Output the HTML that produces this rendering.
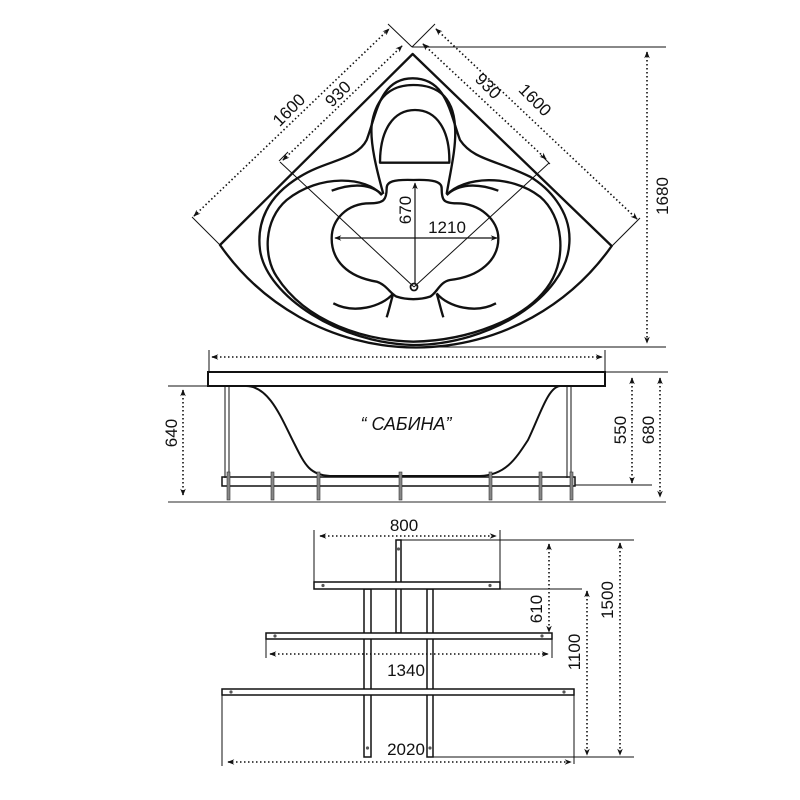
<!DOCTYPE html>
<html><head><meta charset="utf-8"><style>
html,body{margin:0;padding:0;background:#fff}
svg{display:block}
text{font-family:"Liberation Sans","DejaVu Sans",sans-serif;fill:#111}
</style></head><body>
<svg width="800" height="800" viewBox="0 0 800 800" xmlns="http://www.w3.org/2000/svg">
<defs>
<marker id="a" viewBox="0 0 10 10" refX="9" refY="5" markerWidth="7" markerHeight="7" orient="auto-start-reverse" markerUnits="userSpaceOnUse">
<path d="M0,1 L10,5 L0,9 L3,5 Z" fill="#111"/></marker>
</defs>

<!-- TOP VIEW (zoom coords) -->
<g transform="translate(180,30) scale(0.33333)" fill="none" stroke="#111" stroke-width="7" stroke-linejoin="round">
<path d="M120,645 L698,72 L1295,648 A717,717 0 0 1 120,645 Z"/>
<path d="M698,145 C600,145 590,250 560,330 C530,390 440,390 360,440 C260,500 230,580 240,660 C260,800 480,940 700,945 C930,945 1160,800 1168,640 C1175,540 1100,470 1050,440 C950,390 880,390 840,330 C810,250 800,145 698,145 Z"/>
<path d="M605,495 C560,440 420,430 320,510 C250,570 250,680 290,740 C380,880 560,932 700,935 C860,932 1040,870 1110,760 C1160,680 1150,560 1080,500 C990,430 850,440 800,495"/>
<path d="M610,492 C590,420 570,340 575,285 C590,185 650,165 700,165 C760,165 820,190 825,290 C830,350 810,430 800,492"/>
<path d="M600,398 C600,300 640,240 705,240 C770,240 810,300 808,398 Z"/>
<path d="M700,450 C760,448 785,455 785,475 C785,510 790,520 830,520 C900,520 955,570 955,625 C955,690 900,740 810,750 C780,755 770,790 750,800 C720,810 680,810 650,800 C630,790 620,765 590,755 C500,740 455,690 455,625 C455,570 500,520 570,520 C610,520 620,510 620,475 C620,455 640,448 700,450 Z"/>
<path d="M455,482 C520,458 575,462 607,495"/>
<path d="M955,482 C890,458 835,462 800,495"/>
<path d="M460,820 C520,852 605,832 640,790"/>
<path d="M620,862 C630,830 635,805 640,790"/>
<path d="M948,820 C888,852 805,832 770,790"/>
<path d="M790,862 C780,830 775,805 770,790"/>
</g>
<circle cx="414" cy="287" r="3.5" fill="none" stroke="#111" stroke-width="1.8"/>

<!-- top view dims -->
<g stroke="#111" stroke-width="1" fill="none">
<line x1="388" y1="24" x2="412" y2="47"/>
<line x1="435" y1="24" x2="412" y2="47"/>
<line x1="412" y1="47" x2="666" y2="47"/>
<line x1="418" y1="347" x2="666" y2="347"/>
<line x1="220" y1="245" x2="192" y2="217"/>
<line x1="612" y1="246" x2="640" y2="218"/>
<line x1="280" y1="162" x2="414" y2="287"/>
<line x1="549" y1="163" x2="414" y2="287"/>
<line x1="279" y1="161" x2="288" y2="152"/>
<line x1="550" y1="164" x2="541" y2="155"/>
<line x1="335" y1="238" x2="497" y2="238" marker-start="url(#a)" marker-end="url(#a)" stroke-width="1.2"/>
<line x1="415" y1="284" x2="415" y2="183" marker-end="url(#a)" stroke-width="1.2"/>
</g>
<g stroke="#111" stroke-width="1.6" fill="none" stroke-dasharray="1.5 2.5">
<line x1="194" y1="216" x2="389" y2="29" marker-start="url(#a)" marker-end="url(#a)"/>
<line x1="283" y1="160" x2="402" y2="46" marker-start="url(#a)" marker-end="url(#a)"/>
<line x1="423" y1="44" x2="546" y2="159" marker-start="url(#a)" marker-end="url(#a)"/>
<line x1="436" y1="29" x2="637" y2="219" marker-start="url(#a)" marker-end="url(#a)"/>
<line x1="647" y1="52" x2="647" y2="343" marker-start="url(#a)" marker-end="url(#a)"/>
</g>
<g font-size="17">
<text transform="translate(293,114) rotate(-45)" text-anchor="middle">1600</text>
<text transform="translate(342,98) rotate(-45)" text-anchor="middle">930</text>
<text transform="translate(484,90) rotate(45)" text-anchor="middle">930</text>
<text transform="translate(531,104) rotate(45)" text-anchor="middle">1600</text>
<text transform="translate(411,210) rotate(-90)" text-anchor="middle">670</text>
<text x="447" y="233" text-anchor="middle">1210</text>
<text transform="translate(668,196) rotate(-90)" text-anchor="middle">1680</text>
</g>

<!-- SIDE VIEW -->
<g stroke="#111" fill="none">
<line x1="209" y1="350" x2="209" y2="372" stroke-width="1"/>
<line x1="605" y1="350" x2="605" y2="372" stroke-width="1"/>
<line x1="212" y1="357" x2="602" y2="357" stroke-width="1.6" stroke-dasharray="1.5 2.5" marker-start="url(#a)" marker-end="url(#a)"/>
<rect x="208" y="372" width="397" height="14" stroke-width="2"/>
<line x1="605" y1="372" x2="668" y2="372" stroke-width="1"/>
<line x1="168" y1="386" x2="208" y2="386" stroke-width="1"/>
<line x1="225" y1="386" x2="225" y2="478" stroke-width="1"/>
<line x1="229" y1="386" x2="229" y2="478" stroke-width="1"/>
<line x1="567" y1="386" x2="567" y2="478" stroke-width="1"/>
<line x1="571" y1="386" x2="571" y2="478" stroke-width="1"/>
<path d="M246,386 C270,386 282,420 295,445 C305,465 310,475 330,476 L480,476 C505,475 515,460 528,440 C540,415 548,387 560,386" stroke-width="2"/>
<rect x="222" y="477" width="353" height="9" stroke-width="1.5"/>
<line x1="168" y1="502" x2="666" y2="502" stroke-width="1.2" stroke="#555"/>
<line x1="575" y1="485" x2="652" y2="485" stroke-width="1"/>
</g>
<g fill="#888" stroke="#333" stroke-width="0.6">
<rect x="227" y="472" width="3" height="28"/>
<rect x="271" y="472" width="3" height="28"/>
<rect x="317" y="472" width="3" height="28"/>
<rect x="399" y="472" width="3" height="28"/>
<rect x="489" y="472" width="3" height="28"/>
<rect x="539" y="472" width="3" height="28"/>
<rect x="570" y="472" width="3" height="28"/>
</g>
<g stroke="#111" stroke-width="1.6" fill="none" stroke-dasharray="1.5 2.5">
<line x1="183" y1="390" x2="183" y2="495" marker-start="url(#a)" marker-end="url(#a)"/>
<line x1="632" y1="378" x2="632" y2="483" marker-start="url(#a)" marker-end="url(#a)"/>
<line x1="660" y1="378" x2="660" y2="497" marker-start="url(#a)" marker-end="url(#a)"/>
</g>
<g font-size="17">
<text transform="translate(177,433) rotate(-90)" text-anchor="middle">640</text>
<text transform="translate(626,430) rotate(-90)" text-anchor="middle">550</text>
<text transform="translate(654,430) rotate(-90)" text-anchor="middle">680</text>
<text x="406" y="430" text-anchor="middle" font-size="18" font-style="italic">“ САБИНА”</text>
</g>

<!-- FRAME -->
<g stroke="#111" fill="#fff" stroke-width="1.5">
<rect x="364" y="589" width="7" height="168"/>
<rect x="427" y="589" width="6" height="168"/>
<rect x="396" y="540" width="5" height="93"/>
<rect x="314" y="582" width="186" height="7"/>
<rect x="266" y="633" width="286" height="6"/>
<rect x="222" y="689" width="352" height="6"/>
</g>
<g fill="#555">
<circle cx="398.5" cy="549" r="1.6"/><circle cx="323" cy="585.5" r="1.6"/><circle cx="490" cy="585.5" r="1.6"/>
<circle cx="275" cy="636" r="1.6"/><circle cx="542" cy="636" r="1.6"/>
<circle cx="231" cy="692" r="1.6"/><circle cx="564" cy="692" r="1.6"/>
<circle cx="367.5" cy="748" r="1.6"/><circle cx="430" cy="748" r="1.6"/>
</g>
<g stroke="#111" stroke-width="1" fill="none">
<line x1="314" y1="530" x2="314" y2="582"/>
<line x1="500" y1="530" x2="500" y2="582"/>
<line x1="401" y1="540" x2="634" y2="540"/>
<line x1="500" y1="589" x2="582" y2="589"/>
<line x1="433" y1="757" x2="634" y2="757"/>
<line x1="266" y1="639" x2="266" y2="658"/>
<line x1="552" y1="639" x2="552" y2="658"/>
<line x1="222" y1="695" x2="222" y2="766"/>
<line x1="574" y1="695" x2="574" y2="764"/>
</g>
<g stroke="#111" stroke-width="1.6" fill="none" stroke-dasharray="1.5 2.5">
<line x1="320" y1="536" x2="496" y2="536" marker-start="url(#a)" marker-end="url(#a)"/>
<line x1="270" y1="654" x2="548" y2="654" marker-start="url(#a)" marker-end="url(#a)"/>
<line x1="228" y1="762" x2="571" y2="762" marker-start="url(#a)" marker-end="url(#a)"/>
<line x1="549" y1="544" x2="549" y2="632" marker-start="url(#a)" marker-end="url(#a)"/>
<line x1="587" y1="591" x2="587" y2="755" marker-start="url(#a)" marker-end="url(#a)"/>
<line x1="620" y1="543" x2="620" y2="755" marker-start="url(#a)" marker-end="url(#a)"/>
</g>
<g font-size="17">
<text x="404" y="531" text-anchor="middle">800</text>
<text x="406" y="676" text-anchor="middle">1340</text>
<text x="406" y="755" text-anchor="middle">2020</text>
<text transform="translate(542,609) rotate(-90)" text-anchor="middle">610</text>
<text transform="translate(580,652) rotate(-90)" text-anchor="middle">1100</text>
<text transform="translate(613,600) rotate(-90)" text-anchor="middle">1500</text>
</g>
</svg>
</body></html>
